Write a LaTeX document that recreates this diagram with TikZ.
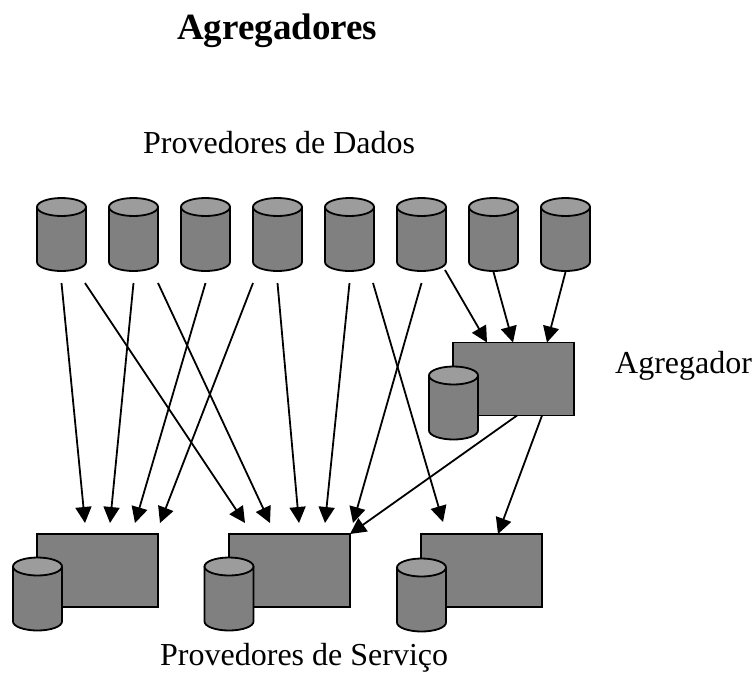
\documentclass[tikz,border=0pt]{standalone}
\usepackage{fontspec}
\setmainfont{Liberation Serif}
\usetikzlibrary{arrows.meta}

\definecolor{dbbody}{HTML}{808080}
\definecolor{dbtop}{HTML}{9C9C9C}

% cilindro desenhado sobre o no #1
\newcommand{\banco}[1]{%
  \filldraw[fill=dbbody, line width=1.8pt, line join=round]
    ([yshift=-9pt]#1.north west) -- ([yshift=9pt]#1.south west)
    arc[start angle=180, end angle=360, x radius=24.5pt, y radius=9pt]
    -- ([yshift=-9pt]#1.north east) -- cycle;
  \filldraw[fill=dbtop, line width=1.8pt]
    ([yshift=-9pt]#1.north) ellipse[x radius=24.5pt, y radius=9pt];
}

\begin{document}
\begin{tikzpicture}[x=1pt, y=-1pt,
    db/.style={rectangle, inner sep=0pt, outer sep=0pt,
      minimum width=49pt, minimum height=73pt},
    srv/.style={rectangle, draw, line width=1.8pt, fill=dbbody, inner sep=0pt,
      outer sep=0pt, minimum width=121pt, minimum height=73pt},
    arr/.style={line width=1.8pt, -{Triangle[length=16pt, width=16pt]}},
    lbl/.style={inner sep=0pt, anchor=base west, font=\fontsize{32}{38}\selectfont}]
  \useasboundingbox (0,0) rectangle (754,673);

  % textos
  \node[lbl, font=\fontsize{37}{44}\selectfont\bfseries] (titulo) at (177,39) {Agregadores};
  \node[lbl] (dados) at (143,153) {Provedores de Dados};
  \node[lbl] (agtxt) at (615,373) {Agregador};
  \node[lbl] (servico) at (160,665) {Provedores de Serviço};

  % provedores de dados
  \node[db] (d1) at (61.5,234.5) {}; \banco{d1}
  \node[db] (d2) at (133.5,234.5) {}; \banco{d2}
  \node[db] (d3) at (205.5,234.5) {}; \banco{d3}
  \node[db] (d4) at (277.5,234.5) {}; \banco{d4}
  \node[db] (d5) at (349.5,234.5) {}; \banco{d5}
  \node[db] (d6) at (421.5,234.5) {}; \banco{d6}
  \node[db] (d7) at (493.5,234.5) {}; \banco{d7}
  \node[db] (d8) at (565.5,234.5) {}; \banco{d8}

  % agregador
  \node[srv] (ag) at (513.5,379) {};
  \node[db] (agdb) at (453.5,403) {}; \banco{agdb}

  % provedores de servico
  \node[srv] (s1) at (97.5,570.5) {};
  \node[db] (s1db) at (37.5,594) {}; \banco{s1db}
  \node[srv] (s2) at (289.5,570.5) {};
  \node[db] (s2db) at (229,594) {}; \banco{s2db}
  \node[srv] (s3) at (481.5,570.5) {};
  \node[db] (s3db) at (421.5,595) {}; \banco{s3db}

  % ligacoes
  \draw[arr] ([yshift=-12pt]d1.south) -- ([xshift=-12.5pt, yshift=11pt]s1.north);
  \draw[arr] ([xshift=23.5pt, yshift=-12pt]d1.south) -- ([xshift=-44.5pt, yshift=11pt]s2.north);
  \draw[arr] ([yshift=-12pt]d2.south) -- ([xshift=12.5pt, yshift=11pt]s1.north);
  \draw[arr] ([xshift=24.5pt, yshift=-12pt]d2.south) -- ([xshift=-19.5pt, yshift=11pt]s2.north);
  \draw[arr] ([yshift=-12pt]d3.south) -- ([xshift=37.5pt, yshift=11pt]s1.north);
  \draw[arr] ([xshift=-24.5pt, yshift=-12pt]d4.south) -- ([xshift=62.5pt, yshift=11pt]s1.north);
  \draw[arr] ([yshift=-12pt]d4.south) -- ([xshift=9.5pt, yshift=11pt]s2.north);
  \draw[arr] ([yshift=-12pt]d5.south) -- ([xshift=35.5pt, yshift=11pt]s2.north);
  \draw[arr] ([xshift=23.5pt, yshift=-12pt]d5.south) -- ([xshift=-38.5pt, yshift=12pt]s3.north);
  \draw[arr] ([yshift=-12pt]d6.south) -- ([xshift=63.5pt, yshift=11pt]s2.north);

  \draw[arr] ([xshift=23.5pt, yshift=1pt]d6.south) -- ([xshift=-26.5pt]ag.north);
  \draw[arr] ([yshift=-1pt]d7.south) -- ([xshift=-0.5pt]ag.north);
  \draw[arr] ([yshift=-1pt]d8.south) -- ([xshift=33.5pt]ag.north);

  \draw[arr] ([xshift=3.5pt]ag.south) -- (s2.north east);
  \draw[arr] ([xshift=28.5pt]ag.south) -- ([xshift=16.5pt]s3.north);
\end{tikzpicture}
\end{document}
